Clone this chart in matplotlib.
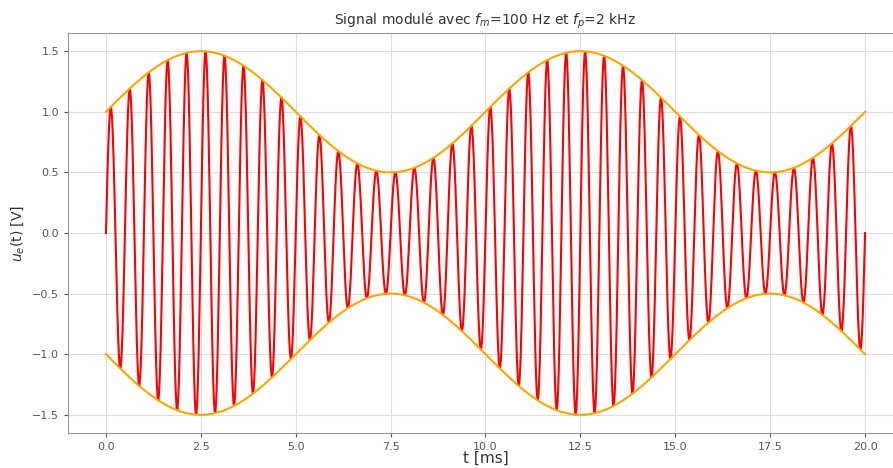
import numpy as np
import matplotlib.pyplot as plt

# signal parameters
fm = 100.0        # modulating frequency [Hz]
fp = 2000.0       # carrier frequency [Hz]
amp = 1.0         # carrier amplitude [V]
m = 0.5           # modulation index
duration_ms = 20.0
n_samples = 1000

xticks = [0.0, 2.5, 5.0, 7.5, 10.0, 12.5, 15.0, 17.5, 20.0]
yticks = [-1.5, -1.0, -0.5, 0.0, 0.5, 1.0, 1.5]

t = np.linspace(0, duration_ms * 1e-3, n_samples)
env = amp * (1 + m * np.sin(2 * np.pi * fm * t))
u = env * np.sin(2 * np.pi * fp * t)
t_ms = t * 1e3

fig = plt.figure(figsize=(8.93, 4.68), dpi=100)
ax = fig.add_axes([68 / 893, 1 - 433 / 468, (903 - 68) / 893, (433 - 33) / 468])

ax.plot(t_ms, u, color='red', linewidth=1.5)
ax.plot(t_ms, env, color='orange', linewidth=1.5)
ax.plot(t_ms, -env, color='orange', linewidth=1.5)

ax.set_xticks(xticks)
ax.set_yticks(yticks)
ax.tick_params(labelsize=8, colors='#555555', length=3)
for s in ax.spines.values():
    s.set_color('#999999')
ax.grid(True, color='#dddddd', linewidth=0.8)

ax.set_title("Signal modulé avec $f_m$=100 Hz et $f_p$=2 kHz", fontsize=10, color='#333333')
ax.set_xlabel("t [ms]", fontsize=11, color='#333333', labelpad=-1)
ax.set_ylabel("$u_e$(t) [V]", fontsize=10, color='#333333')

fig.savefig("out.png", dpi=100)
